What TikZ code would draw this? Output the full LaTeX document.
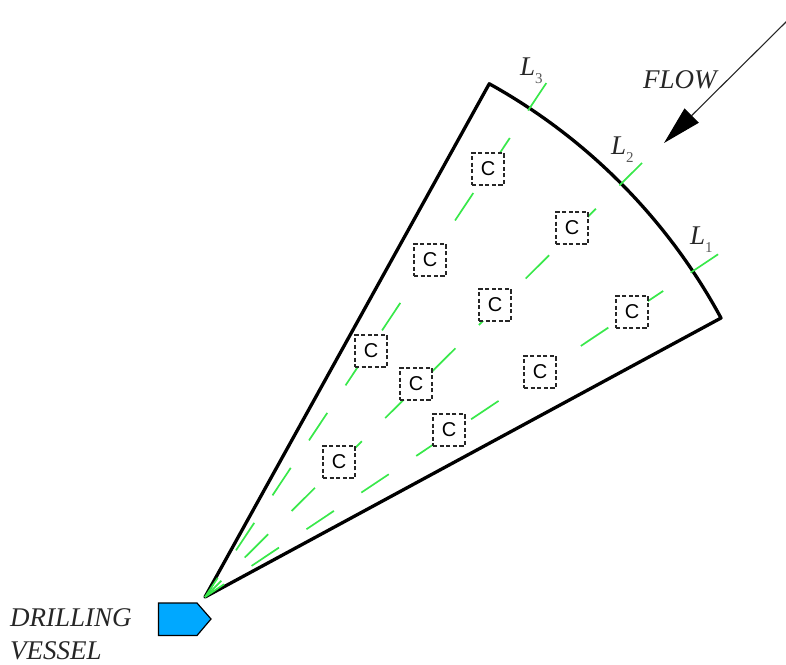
\documentclass[tikz,border=0pt]{standalone}
\usepackage{fontspec}
\setmainfont{Liberation Serif}
\setsansfont{Liberation Sans}
\usetikzlibrary{arrows.meta}
\definecolor{raygreen}{HTML}{38E84A}
\definecolor{vesselblue}{HTML}{00A8FF}
\newcommand{\lbl}[1]{\textit{L}\raisebox{-.3em}{\upshape\fontsize{15}{15}\selectfont\color{black!65}#1}}
\tikzset{
  edgeline/.style={line width=3.3pt,line join=round,black},
  rayline/.style={raygreen,line width=1.7pt,dash pattern=on 33pt off 33pt,dash phase=10pt},
  cbox/.style={draw=black!85,dash pattern=on 4.2pt off 2.4pt,line width=1.2pt,fill=white,minimum size=32pt,inner sep=0pt,text=black,font=\sffamily\fontsize{20}{20}\selectfont},
  lab/.style={inner sep=0pt,font=\itshape\fontsize{27}{33}\selectfont,text=black!85},
  flowline/.style={black!85,line width=1.1pt,-{Triangle[length=39pt,width=20pt,fill=black,color=black]}}
}
\begin{document}
\begin{tikzpicture}[x=1pt,y=-1pt]
\useasboundingbox (0,0) rectangle (786,664);
\coordinate (o) at (205,597);
\coordinate (rc) at (721,318);
\coordinate (e1) at (720,253);
\coordinate (e2) at (642,163);
\coordinate (e3) at (549,79);
\coordinate (fs) at (787,21);
\coordinate (ft) at (664,143);
% sector
\draw[edgeline] (o) -- (rc) arc[start angle=-28.4,end angle=-61,radius=587] -- cycle;
% rays
\draw[rayline] (o) -- (e1);
\draw[rayline] (o) -- (e2);
\draw[rayline] (o) -- (e3);
% boxes
\node[cbox] (c1) at (488,169) {C};
\node[cbox] (c2) at (572,228) {C};
\node[cbox] (c3) at (430,260) {C};
\node[cbox] (c4) at (495,305) {C};
\node[cbox] (c5) at (632,312) {C};
\node[cbox] (c6) at (371,351) {C};
\node[cbox] (c7) at (416,384) {C};
\node[cbox] (c8) at (540,372) {C};
\node[cbox] (c9) at (449,430) {C};
\node[cbox] (c10) at (339,462) {C};
% labels
\node[lab,anchor=base west] (l3) at (520,75) {\lbl{3}};
\node[lab,anchor=base west] (l2) at (611,154) {\lbl{2}};
\node[lab,anchor=base west] (l1) at (690,244) {\lbl{1}};
\node[lab,anchor=base west] (flow) at (643,88) {FLOW};
\node[lab,anchor=base west,align=left] (dv) at (10,659) {DRILLING\\VESSEL};
% flow arrow
\draw[flowline] (fs) -- (ft);
% vessel
\draw[fill=vesselblue,draw=black,line width=1.2pt] (158.5,603) -- (197,603) -- (211,619) -- (197,635.5) -- (158.5,635.5) -- cycle;
\end{tikzpicture}
\end{document}
